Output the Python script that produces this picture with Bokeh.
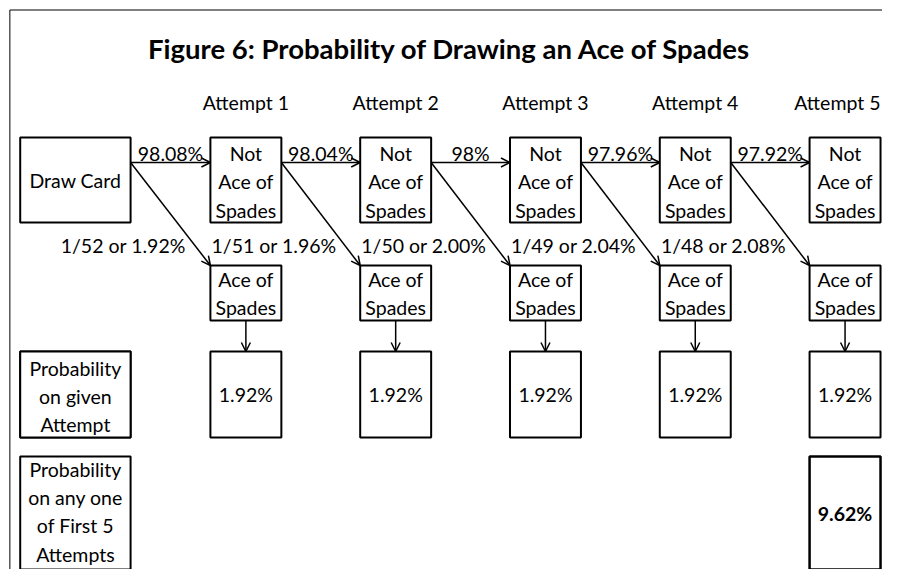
from bokeh.plotting import figure
from bokeh.models import Range1d, ColumnDataSource, Arrow, OpenHead
from bokeh.core.properties import value
from bokeh.embed import file_html
from bokeh.resources import INLINE

# ---- data ----
title_text = "Figure 6: Probability of Drawing an Ace of Spades"
attempts = ["Attempt 1", "Attempt 2", "Attempt 3", "Attempt 4", "Attempt 5"]
not_ace_pct = ["98.08%", "98.04%", "98%", "97.96%", "97.92%"]
ace_fraction = ["1/52 or 1.92%", "1/51 or 1.96%", "1/50 or 2.00%", "1/49 or 2.04%", "1/48 or 2.08%"]
attempt_prob = ["1.92%", "1.92%", "1.92%", "1.92%", "1.92%"]
total_prob = "9.62%"
start_label = ["Draw Card"]
not_ace_label = ["Not", "Ace of", "Spades"]
ace_label = ["Ace of", "Spades"]
row3_label = ["Probability", "on given", "Attempt"]
row4_label = ["Probability", "on any one", "of First 5", "Attempts"]

# ---- layout (diagram units ~ pixels) ----
W, H = 882, 569
XMAX = 895
FONT = "Lato"
FS = "19.5px"

col_left0, col_step, col_w = 213, 152, 72
left_l, left_r = 20, 132
top_row = (137, 222)
ace_row = (265, 320)
prob_row = (351, 437)
tot_row = (456, 569)
arrow_y = 162

p = figure(width=W, height=H, x_range=Range1d(0, XMAX), y_range=Range1d(H, 0),
           output_backend="svg", toolbar_location=None, x_axis_type=None, y_axis_type=None,
           min_border=0, background_fill_color="white", border_fill_color="white")
p.outline_line_color = None
p.xgrid.visible = False
p.ygrid.visible = False

# frame
p.segment(x0=[9.5, 9.5], y0=[9.5, 9.5], x1=[9.5, XMAX + 10], y1=[H + 5, 9.5],
          line_color="black", line_width=1)

n = len(attempts)
lefts = [col_left0 + col_step * i for i in range(n)]
rights = [l + col_w for l in lefts]
centers = [(l + r) / 2 for l, r in zip(lefts, rights)]

def boxes(ls, rs, row, lw=2):
    p.quad(left=ls, right=rs, top=[row[0]] * len(ls), bottom=[row[1]] * len(ls),
           fill_color="white", line_color="black", line_width=lw)

boxes([left_l], [left_r], top_row)
boxes(lefts, rights, top_row)
boxes(lefts, rights, ace_row)
boxes(lefts, rights, prob_row)
boxes([left_l, left_l], [left_r, left_r], prob_row)
boxes([left_l], [left_r], tot_row)
boxes([lefts[-1]], [rights[-1]], tot_row, lw=2.5)

# arrows
src_r = [left_r] + rights[:-1]
xs, ys, xe, ye = [], [], [], []
for i in range(n):
    xs += [src_r[i], src_r[i]]
    ys += [arrow_y, arrow_y]
    xe += [lefts[i], lefts[i]]
    ye += [arrow_y, ace_row[0]]
    xs.append(centers[i]); ys.append(ace_row[1]); xe.append(centers[i]); ye.append(prob_row[0])
asrc = ColumnDataSource(dict(xs=xs, ys=ys, xe=xe, ye=ye))
p.add_layout(Arrow(source=asrc, x_start="xs", y_start="ys", x_end="xe", y_end="ye",
                   line_width=1.5, line_color="black",
                   end=OpenHead(size=9, line_width=1.5, line_color="black")))

def txt(x, y, t, align="center", size=FS, style="normal"):
    p.text(x=x, y=y, text=t, text_font=value(FONT), text_font_size=size,
           text_align=align, text_baseline="middle", text_color="black",
           text_font_style=style)

# title
txt([456], [47.5], [title_text], size="27.5px", style="bold")
# attempts (the last one is kept inside the right edge)
txt(centers[:-1], [102] * (n - 1), attempts[:-1])
txt([XMAX - 2], [102], attempts[-1:], align="right")
# top row texts
txt([(left_l + left_r) / 2], [180], start_label)
for line, yy in zip(not_ace_label, [153, 181, 210]):
    txt(centers, [yy] * n, [line] * n)
for line, yy in zip(ace_label, [278.5, 306.5]):
    txt(centers, [yy] * n, [line] * n)
# percentages on horizontal arrows
mid = [(a + b) / 2 for a, b in zip(src_r, lefts)]
txt(mid, [153] * n, not_ace_pct)
# fractions
txt([r + 56 for r in src_r], [245] * n, ace_fraction, align="right")
# per-attempt probabilities
txt(centers, [(prob_row[0] + prob_row[1]) / 2] * n, attempt_prob)
txt([centers[-1]], [513], [total_prob], style="bold")
# row labels
lc = (left_l + left_r) / 2
txt([lc] * 3, [367.5, 395.5, 424], row3_label)
txt([lc] * 4, [468.5, 496.5, 525, 553.5], row4_label)

open("out.html", "w").write(file_html(p, INLINE))
